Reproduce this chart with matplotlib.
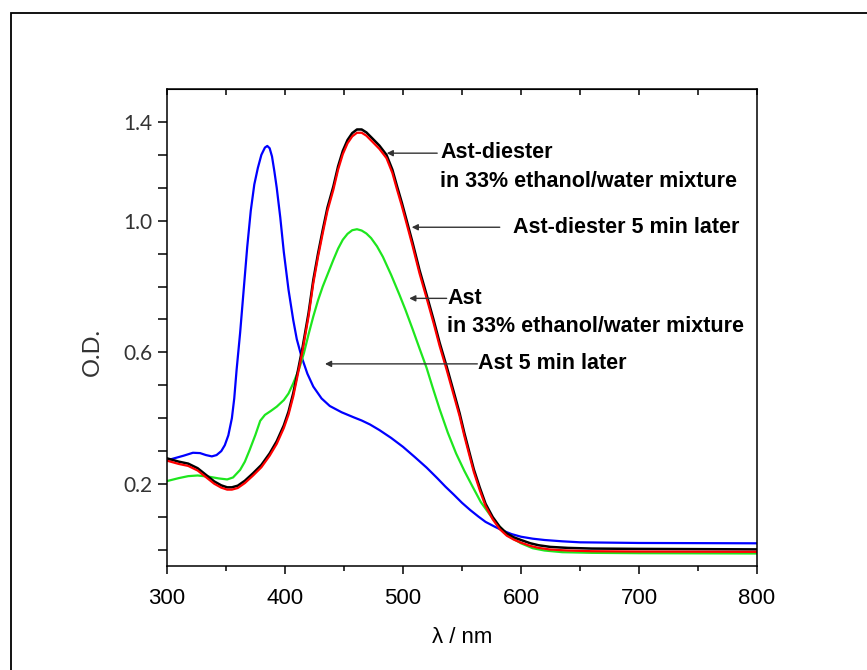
import numpy as np
import matplotlib.pyplot as plt
from matplotlib.patches import Rectangle

# absorption spectra, wavelength in nm vs optical density
wl_black = [300, 310, 318, 326, 333, 340, 346, 351, 355, 360, 366, 373, 380, 387,
            393, 399, 403, 407, 411, 415, 420, 424, 428, 432, 436, 441, 445, 449,
            453, 457, 461, 465, 469, 474, 480, 486, 491, 495, 499, 503, 508, 514,
            520, 526, 531, 537, 543, 548, 552, 556, 560, 565, 570, 576, 582, 588,
            594, 600, 608, 615, 625, 640, 660, 700, 800]
od_black = [0.278, 0.268, 0.262, 0.248, 0.228, 0.208, 0.196, 0.190, 0.190, 0.195,
            0.210, 0.233, 0.258, 0.293, 0.330, 0.378, 0.420, 0.476, 0.545, 0.617,
            0.720, 0.820, 0.900, 0.972, 1.040, 1.104, 1.165, 1.212, 1.245, 1.266,
            1.277, 1.277, 1.268, 1.250, 1.228, 1.200, 1.155, 1.104, 1.055, 1.002,
            0.935, 0.850, 0.775, 0.698, 0.630, 0.557, 0.480, 0.415, 0.355, 0.300,
            0.245, 0.190, 0.140, 0.100, 0.070, 0.050, 0.038, 0.030, 0.020, 0.014,
            0.009, 0.006, 0.004, 0.003, 0.0015]

wl_red = wl_black
od_red = [0.271, 0.261, 0.255, 0.241, 0.221, 0.201, 0.189, 0.183, 0.183, 0.188,
          0.203, 0.226, 0.251, 0.286, 0.322, 0.370, 0.411, 0.466, 0.535, 0.607,
          0.710, 0.810, 0.890, 0.962, 1.030, 1.094, 1.155, 1.202, 1.235, 1.256,
          1.267, 1.267, 1.258, 1.240, 1.218, 1.190, 1.145, 1.094, 1.045, 0.992,
          0.925, 0.840, 0.765, 0.688, 0.620, 0.547, 0.470, 0.406, 0.346, 0.291,
          0.237, 0.182, 0.133, 0.093, 0.063, 0.043, 0.031, 0.022, 0.012, 0.006,
          0.001, -0.002, -0.004, -0.005, -0.006]

wl_green = [300, 310, 318, 326, 336, 344, 351, 356, 362, 366, 370, 375, 379, 383,
            388, 393, 399, 403, 407, 412, 416, 420, 424, 428, 432, 437, 441, 445,
            449, 453, 457, 461, 465, 469, 473, 478, 483, 490, 497, 502, 508, 514,
            520, 525, 531, 538, 545, 552, 559, 566, 574, 580, 586, 592, 600, 610,
            620, 635, 660, 700, 800]
od_green = [0.209, 0.218, 0.224, 0.226, 0.222, 0.217, 0.214, 0.220, 0.243, 0.268,
            0.303, 0.350, 0.392, 0.410, 0.422, 0.435, 0.455, 0.475, 0.506, 0.550,
            0.597, 0.655, 0.709, 0.758, 0.800, 0.845, 0.881, 0.915, 0.942, 0.960,
            0.971, 0.974, 0.970, 0.961, 0.947, 0.922, 0.890, 0.835, 0.775, 0.730,
            0.672, 0.612, 0.553, 0.495, 0.428, 0.356, 0.293, 0.240, 0.192, 0.145,
            0.105, 0.078, 0.055, 0.037, 0.020, 0.005, -0.002, -0.007, -0.009,
            -0.010, -0.011]

wl_blue = [300, 306, 314, 322, 328, 333, 338, 342, 346, 349, 352, 355, 357, 359,
           362, 365, 368, 371, 374, 377, 380, 383, 385, 387, 389, 391, 393, 396,
           399, 403, 407, 410, 414, 419, 424, 431, 438, 448, 458, 465, 472, 480,
           490, 500, 510, 520, 529, 536, 543, 550, 557, 564, 570, 578, 585, 592,
           600, 610, 620, 635, 650, 700, 800]
od_blue = [0.272, 0.278, 0.286, 0.295, 0.294, 0.288, 0.284, 0.288, 0.300, 0.318,
           0.348, 0.400, 0.460, 0.547, 0.660, 0.790, 0.920, 1.030, 1.110, 1.160,
           1.200, 1.222, 1.227, 1.220, 1.195, 1.150, 1.100, 1.010, 0.905, 0.790,
           0.698, 0.640, 0.587, 0.535, 0.496, 0.460, 0.437, 0.418, 0.403, 0.393,
           0.381, 0.364, 0.340, 0.313, 0.282, 0.250, 0.218, 0.192, 0.168, 0.143,
           0.121, 0.101, 0.085, 0.070, 0.058, 0.048, 0.040, 0.034, 0.030, 0.026,
           0.023, 0.021, 0.020]

ytick_pos = [0.2, 0.6, 1.0, 1.3]
ytick_text = ['0.2', '0.6', '1.0', '1.4']

fig = plt.figure(figsize=(8.67, 6.70), dpi=100)

# page frame
fig.add_artist(Rectangle((0.0127, -0.05), 1.2, 1.0306, transform=fig.transFigure,
                         fill=False, edgecolor='black', linewidth=1.3))

ax = fig.add_axes([0.1926, 0.1552, 0.6805, 0.712])

ax.plot(wl_blue, od_blue, color='#0000ff', lw=1.6)
ax.plot(wl_green, od_green, color='#1ee61e', lw=1.6)
ax.plot(wl_black, od_black, color='black', lw=1.8)
ax.plot(wl_red, od_red, color='#ff0000', lw=1.6)

ax.set_xlim(300, 800)
ax.set_ylim(-0.049, 1.40)

for s in ax.spines.values():
    s.set_linewidth(1.1)

ax.set_xticks(np.arange(300, 801, 100))
ax.set_xticks(np.arange(350, 800, 100), minor=True)
ax.tick_params(axis='x', which='major', direction='out', length=6, width=1.1,
               labelsize=16, pad=10)
ax.tick_params(axis='x', which='minor', direction='out', length=3.5, width=1.1)
for lab in ax.get_xticklabels():
    lab.set_fontfamily('Liberation Sans')

top = ax.secondary_xaxis('top')
top.set_xticks(np.arange(300, 801, 50))
top.tick_params(direction='in', length=4, width=1.1, labeltop=False)

# every 0.1 gets a tick, only some carry a label
yticks = np.round(np.arange(0, 1.31, 0.1), 1)
ylabels = []
for v in yticks:
    ylabels.append(ytick_text[ytick_pos.index(v)] if v in ytick_pos else '')
ax.set_yticks(yticks, ylabels)
ax.tick_params(axis='y', direction='out', length=6.5, width=1.1, pad=4,
               labelsize=15, labelcolor='#333333')
for lab in ax.get_yticklabels():
    lab.set_fontfamily('Lato')

ax.set_xlabel('λ / nm', fontsize=16, family='Liberation Sans', labelpad=13)
ax.set_ylabel('O.D.', fontsize=17, family='Lato', color='#333333')
ax.yaxis.set_label_coords(-0.108, 0.449)

# annotations: arrows pointing at the curves
arrow = dict(arrowstyle='-|>', color='#333333', lw=1.0, mutation_scale=9,
             shrinkA=0, shrinkB=0)
txt = dict(fontsize=15.5, fontweight='bold', family='Liberation Sans',
           va='center', ha='left')

ax.annotate('', xy=(486.2, 1.205), xytext=(529, 1.205), arrowprops=arrow)
ax.text(531.4, 1.206, 'Ast-diester', **txt)
ax.text(531.4, 1.119, 'in 33% ethanol/water mixture', **txt)

ax.annotate('', xy=(507.4, 0.980), xytext=(582, 0.980), arrowprops=arrow)
ax.text(593.2, 0.980, 'Ast-diester 5 min later', **txt)

ax.annotate('', xy=(505.3, 0.764), xytext=(537, 0.764), arrowprops=arrow)
ax.text(537.5, 0.764, 'Ast', **txt)
ax.text(537.5, 0.680, 'in 33% ethanol/water mixture', **txt)

ax.annotate('', xy=(433.9, 0.565), xytext=(563, 0.565), arrowprops=arrow)
ax.text(563.8, 0.565, 'Ast 5 min later', **txt)

fig.savefig('out.png', dpi=100)
